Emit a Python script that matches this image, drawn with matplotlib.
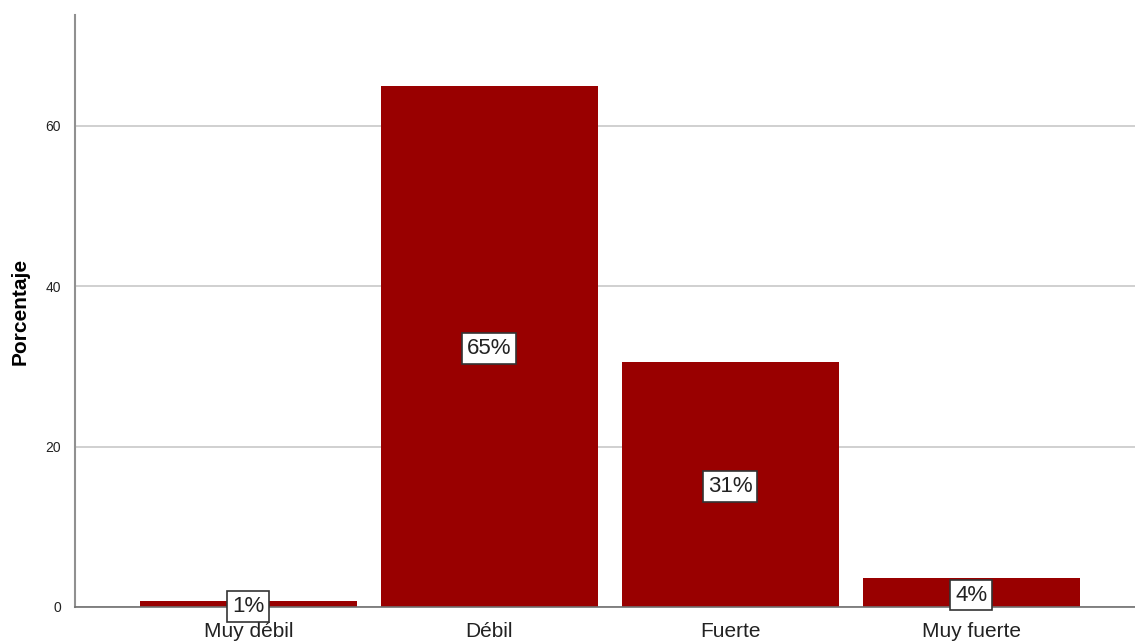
import matplotlib.pyplot as plt

plt.rcParams['font.family'] = ['Liberation Sans', 'DejaVu Sans']

# datos
categorias = ['Muy débil', 'Débil', 'Fuerte', 'Muy fuerte']
porcentajes = [0.8, 65.0, 30.6, 3.6]
etiquetas = ['1%', '65%', '31%', '4%']
yticks = [0, 20, 40, 60]

fig = plt.figure(figsize=(11.35, 6.44), dpi=100)
ax = fig.add_axes([0.066, 0.0575, 0.934, 0.919])

x = range(len(categorias))
ax.bar(x, porcentajes, width=0.9, color='#990000', zorder=2)

for xi, v, t in zip(x, porcentajes, etiquetas):
    ax.text(xi, v / 2, t, ha='center', va='center_baseline', fontsize=16,
            zorder=5, color='#222222',
            bbox=dict(boxstyle='square,pad=0.22', facecolor='white',
                      edgecolor='#333333', linewidth=1.2))

ax.set_xlim(-0.72, 3.68)
ax.set_ylim(0, 73.8)
ax.set_yticks(yticks)
ax.set_xticks(list(x))
ax.set_xticklabels(categorias, fontsize=15, color='#222222')
ax.tick_params(axis='y', length=0, labelsize=10, pad=10, labelcolor='#222222')
ax.tick_params(axis='x', length=0, pad=11)
ax.grid(axis='y', color='#c8c8c8', linewidth=1.2, zorder=0)
ax.set_axisbelow(True)

for s in ['top', 'right']:
    ax.spines[s].set_visible(False)
ax.spines['left'].set_color('#909090')
ax.spines['left'].set_linewidth(1.5)
ax.spines['bottom'].set_color('#707070')
ax.spines['bottom'].set_linewidth(1.2)

ax.set_ylabel('Porcentaje', fontsize=15, fontweight='bold')
ax.yaxis.set_label_coords(-0.043, 0.5)

fig.savefig('out.png', dpi=100)
